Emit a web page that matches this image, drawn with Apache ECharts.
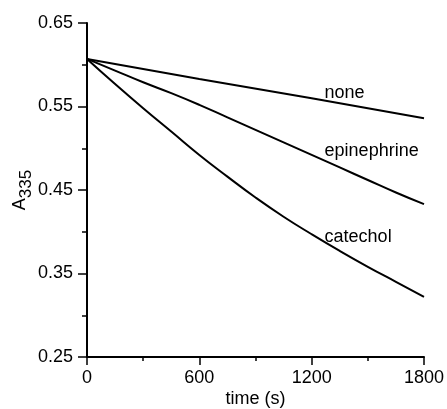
<!DOCTYPE html>
<html lang="en">
<head>
    <meta charset="UTF-8">
    <script src="https://cdn.jsdelivr.net/npm/echarts@6/dist/echarts.min.js"></script>
    <title>A335 vs time</title>
    <style>
        html, body { margin: 0; padding: 0; background: #fff; }
    </style>
</head>
<body>
<div id="main" style="width: 447px;height:409px;"></div>
<script type="text/javascript">
    var myChart = echarts.init(document.getElementById('main'));

    // time (s) and absorbance at 335 nm
    var timeFine = [0, 150, 300, 450, 600, 750, 900, 1050, 1200, 1350, 1500, 1650, 1800];
    var timeNone = [0, 600, 1200, 1800];
    var noneVals = [0.607, 0.583, 0.560, 0.536];
    var epinephrineVals = [0.607, 0.593, 0.579, 0.566, 0.552, 0.537, 0.522, 0.507, 0.492, 0.477, 0.462, 0.447, 0.433];
    var catecholVals = [0.607, 0.577, 0.548, 0.520, 0.492, 0.466, 0.441, 0.418, 0.397, 0.377, 0.358, 0.340, 0.322];

    // curve labels: [text, time, A335] anchor of the left edge
    var curveLabels = [
        ['none', 1269, 0.566],
        ['epinephrine', 1269, 0.497],
        ['catechol', 1269, 0.394]
    ];

    function pairs(xs, ys) {
        return xs.map(function (x, i) { return [x, ys[i]]; });
    }

    var font = 'Liberation Sans, Arial, Helvetica, sans-serif';
    var lineStyle = { color: '#000', width: 2 };

    var option = {
        animation: false,
        grid: { left: 87, right: 23, top: 23, bottom: 52, containLabel: false, outerBoundsMode: 'none' },
        xAxis: {
            type: 'value',
            min: 0,
            max: 1800,
            interval: 600,
            name: 'time (s)',
            nameLocation: 'middle',
            nameGap: 33,
            nameMoveOverlap: false,
            nameTextStyle: { color: '#000', fontSize: 18, fontFamily: font },
            axisLine: { lineStyle: { color: '#000', width: 2 } },
            axisTick: { length: 8, lineStyle: { color: '#000', width: 1.5 } },
            minorTick: { show: true, splitNumber: 2, length: 4, lineStyle: { color: '#000', width: 1.5 } },
            axisLabel: {
                color: '#000', fontSize: 18, fontFamily: font, margin: 12,
                formatter: function (v) { return String(v); }
            },
            splitLine: { show: false },
            minorSplitLine: { show: false }
        },
        yAxis: {
            type: 'value',
            min: 0.25,
            max: 0.65,
            interval: 0.1,
            name: '{a|A}{s|335}',
            nameLocation: 'middle',
            nameGap: 52,
            nameMoveOverlap: false,
            nameTextStyle: {
                color: '#000', fontFamily: font,
                rich: {
                    a: { fontSize: 18, fontFamily: font, color: '#000', lineHeight: 24, verticalAlign: 'top' },
                    s: { fontSize: 17, fontFamily: font, color: '#000', lineHeight: 24, verticalAlign: 'bottom', padding: [11, 0, 0, 0] }
                }
            },
            axisLine: { show: true, onZero: false, lineStyle: { color: '#000', width: 2 } },
            axisTick: { show: true, length: 9, lineStyle: { color: '#000', width: 1.5 } },
            minorTick: { show: true, splitNumber: 2, length: 5, lineStyle: { color: '#000', width: 1.5 } },
            axisLabel: {
                color: '#000', fontSize: 18, fontFamily: font, margin: 14,
                formatter: function (v) { return v.toFixed(2); }
            },
            splitLine: { show: false },
            minorSplitLine: { show: false }
        },
        series: [
            { name: 'none', type: 'line', data: pairs(timeNone, noneVals), showSymbol: false, lineStyle: lineStyle },
            { name: 'epinephrine', type: 'line', smooth: true, data: pairs(timeFine, epinephrineVals), showSymbol: false, lineStyle: lineStyle },
            { name: 'catechol', type: 'line', smooth: true, data: pairs(timeFine, catecholVals), showSymbol: false, lineStyle: lineStyle }
        ]
    };

    myChart.setOption(option);

    // put curve names next to the lines
    myChart.setOption({
        graphic: curveLabels.map(function (c) {
            var p = myChart.convertToPixel({ gridIndex: 0 }, [c[1], c[2]]);
            return {
                type: 'text',
                x: p[0],
                y: p[1],
                style: {
                    text: c[0],
                    fill: '#000',
                    fontSize: 18,
                    fontFamily: font,
                    textAlign: 'left',
                    textVerticalAlign: 'middle'
                }
            };
        })
    });
</script>
</body>
</html>
